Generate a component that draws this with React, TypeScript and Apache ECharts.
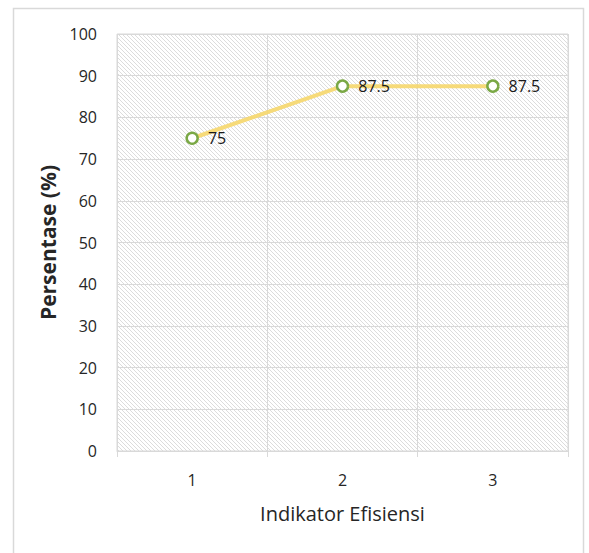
import React, { useEffect, useRef } from "react";
import * as echarts from "echarts";

const categories = ["1", "2", "3"];
const persentase = [75, 87.5, 87.5];
const yMin = 0;
const yMax = 100;
const yStep = 10;

const FONT = "'Open Sans', 'Noto Sans', sans-serif";

// small repeating tile of 1px diagonal strokes for the plot background
function makeHatch(): HTMLCanvasElement {
  const n = 4;
  const c = document.createElement("canvas");
  c.width = n;
  c.height = n;
  const ctx = c.getContext("2d")!;
  ctx.fillStyle = "#ffffff";
  ctx.fillRect(0, 0, n, n);
  ctx.fillStyle = "#dcdcdc";
  for (let i = 0; i < n; i++) ctx.fillRect(i, i, 1, 1);
  return c;
}

export default function App() {
  const ref = useRef<HTMLDivElement>(null);

  useEffect(() => {
    if (!ref.current) return;
    const chart = echarts.init(ref.current, undefined, { renderer: "svg" });
    const hatch = makeHatch();
    chart.setOption({
      animation: false,
      backgroundColor: "#ffffff",
      graphic: [
        {
          type: "rect",
          shape: { x: 13.5, y: 8.5, width: 570, height: 600 },
          style: { fill: "none", stroke: "#d9d9d9", lineWidth: 1.5 },
          silent: true,
          z: -1,
        },
      ],
      grid: {
        left: 117,
        right: 21,
        top: 34,
        bottom: 102,
        show: true,
        borderColor: "#d9d9d9",
        borderWidth: 1,
        backgroundColor: { image: hatch, repeat: "repeat" } as any,
      },
      xAxis: {
        type: "category",
        data: categories,
        boundaryGap: true,
        name: "Indikator Efisiensi",
        nameLocation: "middle",
        nameGap: 52,
        nameTextStyle: { fontFamily: FONT, fontSize: 20, color: "#262626" },
        axisLine: { show: true, lineStyle: { color: "#d9d9d9", width: 1 } },
        axisTick: { show: true, length: 6, lineStyle: { color: "#d9d9d9" } },
        axisLabel: { margin: 21, fontFamily: FONT, fontSize: 16, color: "#262626" },
        splitLine: { show: true, lineStyle: { color: "#d9d9d9", width: 1 } },
      },
      yAxis: {
        type: "value",
        min: yMin,
        max: yMax,
        interval: yStep,
        name: "Persentase (%)",
        nameLocation: "middle",
        nameGap: 55,
        nameTextStyle: { fontFamily: FONT, fontSize: 21, fontWeight: "bold", color: "#262626" },
        axisLine: { show: false },
        axisTick: { show: false },
        axisLabel: { margin: 20, fontFamily: FONT, fontSize: 16, color: "#262626" },
        splitLine: { show: true, lineStyle: { color: "#d9d9d9", width: 1 } },
      },
      series: [
        {
          type: "line",
          data: persentase,
          symbol: "circle",
          symbolSize: 11,
          showAllSymbol: true,
          lineStyle: { color: "#f6d76c", width: 4, opacity: 0.9 },
          itemStyle: { color: "#ffffff", borderColor: "#7aa845", borderWidth: 2.5 },
          label: {
            show: true,
            position: "right",
            distance: 9,
            fontFamily: FONT,
            fontSize: 16,
            color: "#1a1a1a",
          },
        },
      ],
    });
    return () => chart.dispose();
  }, []);

  return (
    <div
      ref={ref}
      style={{ position: "fixed", left: 0, top: 0, width: 589, height: 553 }}
    />
  );
}
